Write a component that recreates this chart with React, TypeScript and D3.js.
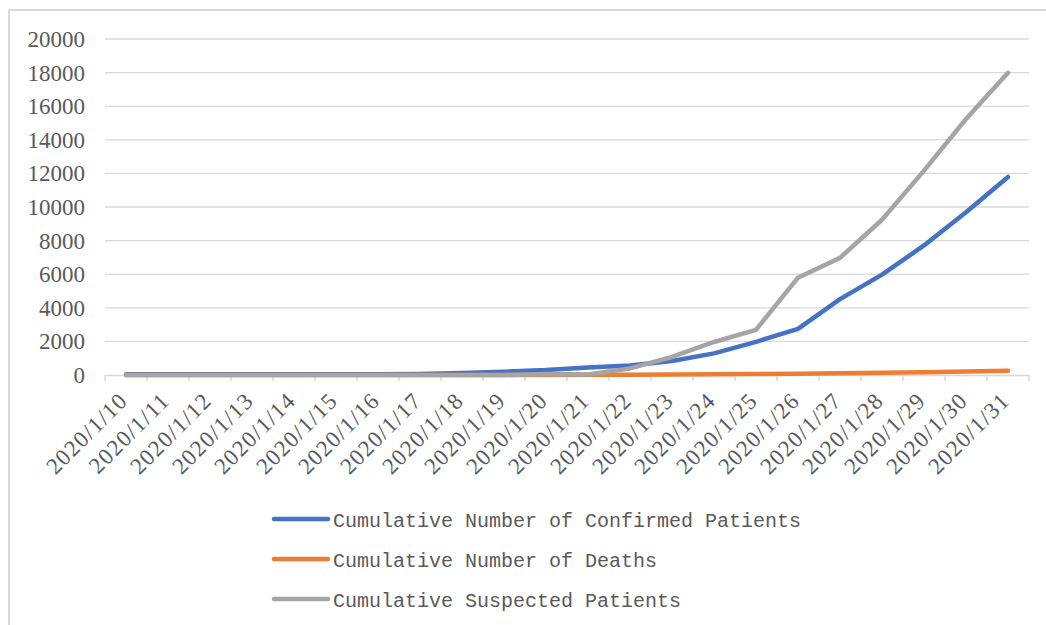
import { useRef, useEffect } from 'react';
import * as d3 from 'd3';

// dates on the x axis
const dates = [
  '2020/1/10', '2020/1/11', '2020/1/12', '2020/1/13', '2020/1/14', '2020/1/15',
  '2020/1/16', '2020/1/17', '2020/1/18', '2020/1/19', '2020/1/20', '2020/1/21',
  '2020/1/22', '2020/1/23', '2020/1/24', '2020/1/25', '2020/1/26', '2020/1/27',
  '2020/1/28', '2020/1/29', '2020/1/30', '2020/1/31',
];

const confirmed = [41, 41, 41, 41, 41, 41, 45, 62, 121, 198, 291, 440, 571, 830, 1287, 1975, 2744, 4515, 5974, 7711, 9692, 11791];
const deaths = [1, 1, 1, 1, 1, 2, 2, 2, 3, 3, 6, 9, 17, 25, 41, 56, 80, 106, 132, 170, 213, 259];
const suspected = [0, 0, 0, 0, 0, 0, 0, 0, 0, 0, 54, 37, 393, 1072, 1965, 2684, 5794, 6973, 9239, 12167, 15238, 17988];

const yTicks = [0, 2000, 4000, 6000, 8000, 10000, 12000, 14000, 16000, 18000, 20000];

const seriesNames = [
  'Cumulative Number of Confirmed Patients',
  'Cumulative Number of Deaths',
  'Cumulative Suspected Patients',
];
const seriesColors = ['#4472C4', '#ED7D31', '#A5A5A5'];

export default function App() {
  const svgRef = useRef<SVGSVGElement>(null);
  const width = 1046;
  const height = 625;

  useEffect(() => {
    const svg = d3.select(svgRef.current);
    svg.selectAll('*').remove();

    // outer chart border (runs off the right and bottom)
    svg.append('rect')
      .attr('x', 9).attr('y', 10)
      .attr('width', 1100).attr('height', 700)
      .attr('fill', 'white')
      .attr('stroke', '#d9d9d9').attr('stroke-width', 2);

    const x = d3.scaleBand()
      .domain(dates)
      .range([105, 1029]);

    const y = d3.scaleLinear()
      .domain([0, 20000])
      .range([375, 39]);

    // gridlines
    svg.append('g')
      .selectAll('line')
      .data(yTicks.filter(d => d > 0))
      .enter()
      .append('line')
      .attr('x1', 105).attr('x2', 1029)
      .attr('y1', d => y(d)).attr('y2', d => y(d))
      .attr('stroke', '#d9d9d9').attr('stroke-width', 1.3);

    // y labels
    svg.append('g')
      .selectAll('text')
      .data(yTicks)
      .enter()
      .append('text')
      .attr('x', 85)
      .attr('y', d => y(d))
      .attr('dy', '0.35em')
      .attr('text-anchor', 'end')
      .attr('font-family', '"Liberation Serif", serif')
      .attr('font-size', 23)
      .attr('fill', '#595959')
      .text(d => d);

    // x axis
    const xAxis = svg.append('g')
      .attr('transform', `translate(0,${y(0)})`)
      .call(d3.axisBottom(x).tickSize(6).tickSizeOuter(0).tickFormat(() => ''));
    xAxis.select('.domain').attr('stroke', '#d9d9d9').attr('stroke-width', 1.5);
    xAxis.selectAll('.tick').remove();
    xAxis.selectAll('line.sep')
      .data(d3.range(dates.length + 1))
      .enter()
      .append('line')
      .attr('class', 'sep')
      .attr('x1', i => 105 + i * x.step())
      .attr('x2', i => 105 + i * x.step())
      .attr('y1', 0).attr('y2', 6)
      .attr('stroke', '#d9d9d9').attr('stroke-width', 1.5);

    // x labels
    svg.append('g')
      .selectAll('text')
      .data(dates)
      .enter()
      .append('text')
      .attr('transform', d => `translate(${(x(d) as number) + x.bandwidth() / 2 + 3},402) rotate(-45)`)
      .attr('text-anchor', 'end')
      .attr('font-family', '"Liberation Serif", serif')
      .attr('font-size', 23)
      .attr('letter-spacing', 1.2)
      .attr('fill', '#595959')
      .text(d => d);

    const line = d3.line<number>()
      .x((_, i) => (x(dates[i]) as number) + x.bandwidth() / 2)
      .y(d => y(d));

    [confirmed, deaths, suspected].forEach((s, i) => {
      svg.append('path')
        .datum(s)
        .attr('d', line)
        .attr('fill', 'none')
        .attr('stroke', seriesColors[i])
        .attr('stroke-width', 4.5)
        .attr('stroke-linecap', 'round')
        .attr('stroke-linejoin', 'round');
    });

    // legend
    const lg = svg.append('g');
    seriesNames.forEach((name, i) => {
      const ly = 519 + i * 40;
      lg.append('line')
        .attr('x1', 274).attr('x2', 328)
        .attr('y1', ly).attr('y2', ly)
        .attr('stroke', seriesColors[i])
        .attr('stroke-width', 4.5)
        .attr('stroke-linecap', 'round');
      lg.append('text')
        .attr('x', 333).attr('y', ly + 8)
        .attr('font-family', '"Liberation Mono", monospace')
        .attr('font-size', 20)
        .attr('fill', '#595959')
        .text(name);
    });
  }, []);

  return (
    <svg ref={svgRef} width={width} height={height}
      style={{ position: 'absolute', left: 0, top: 0, background: 'white' }} />
  );
}
